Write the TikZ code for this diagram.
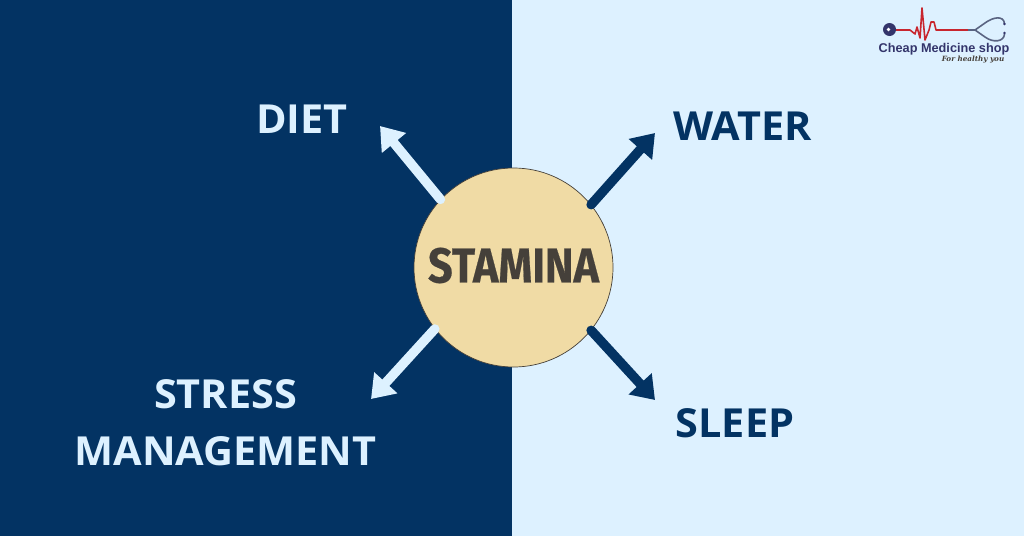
\documentclass[tikz,border=0pt]{standalone}
\usepackage{fontspec}
\setmainfont{Open Sans}
\newfontfamily\stfont{Fira Sans}
\newfontfamily\logofont{Liberation Sans}
\newfontfamily\tagfont{DejaVu Serif}
\usetikzlibrary{arrows.meta}
\definecolor{navy}{HTML}{033363}
\definecolor{pale}{HTML}{DDF1FF}
\definecolor{sand}{HTML}{F0DBA5}
\definecolor{ink}{HTML}{45403A}
\definecolor{logored}{HTML}{C8262E}
\definecolor{logonavy}{HTML}{33356B}
\definecolor{logosteel}{HTML}{5A6482}
\tikzset{
  x=1pt,y=-1pt,
  label text/.style={font=\bfseries\fontsize{40}{57}\selectfont,align=center,inner sep=0pt,xscale=1.035,transform shape},
  spoke/.style={line width=9.5pt,line cap=round,-{Triangle[length=22pt,width=30pt]}},
}
\begin{document}
\begin{tikzpicture}
\useasboundingbox (0,0) rectangle (1024,536);
\fill[navy] (0,0) rectangle (512,536);
\fill[pale] (512,0) rectangle (1024,536);
\coordinate (tipdiet) at (380,126);
\coordinate (tipwater) at (655,133);
\coordinate (tipstress) at (371,399);
\coordinate (tipsleep) at (655,400);
\node[circle,draw=ink,line width=.7pt,fill=sand,minimum size=199pt,inner sep=0pt] (stamina) at (513.5,267.5) {};
\node[font=\stfont\bfseries\addfontfeature{FakeBold=.5}\fontsize{49}{52}\selectfont,text=ink,inner sep=0pt,xscale=.88,transform shape] (stlabel) at (513.5,265.5) {STAMINA};
\draw[spoke,pale] (stamina.137) -- (tipdiet);
\draw[spoke,navy] (stamina.39) -- (tipwater);
\draw[spoke,pale] (stamina.218) -- (tipstress);
\draw[spoke,navy] (stamina.321) -- (tipsleep);
\node[label text,text=pale] (diet) at (302,119) {DIET};
\node[label text,text=navy] (water) at (742.5,126) {WATER};
\node[label text,text=pale] (stress) at (225.5,423) {STRESS\\MANAGEMENT};
\node[label text,text=navy] (sleep) at (735,423) {SLEEP};
% logo
\draw[logored,line width=1.6pt,line join=round] (891,30) -- (910,30) -- (915,34) -- (917,27) -- (920,38) -- (922,8) -- (925,40) -- (929,30) -- (931,22) -- (934,22) -- (936,30) -- (968,30);
\fill[logonavy] (889.5,29.5) circle (6.5pt);
\fill[white] (888.5,29.5) circle (1.8pt);
\draw[logosteel,line width=1.6pt,line join=round] (968,30) -- (975,30) -- (985,23) .. controls (993,17) and (1004,15) .. (1004.5,24);
\draw[logosteel,line width=1.6pt,line join=round] (975,30) -- (985,37) .. controls (993,43) and (1004,42) .. (1004.5,34);
\fill[logonavy] (1004.5,24) circle (1.3pt) (1004.5,33) circle (1.3pt);
\node[font=\logofont\bfseries\fontsize{12.7}{15}\selectfont,text=logonavy,inner sep=0pt] (logoname) at (944,49) {Cheap Medicine shop};
\node[font=\tagfont\bfseries\itshape\fontsize{7.2}{8}\selectfont,text=ink,inner sep=0pt] (logotag) at (973,59.5) {For healthy you};
\end{tikzpicture}
\end{document}
